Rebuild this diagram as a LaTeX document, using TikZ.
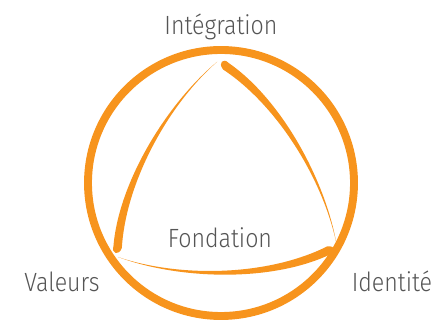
\documentclass[tikz,border=0pt]{standalone}
\usepackage{fontspec}
\setmainfont{Fira Sans Light}[FakeStretch=0.88]
\usepackage{tikz}
\definecolor{brushorange}{RGB}{247,148,29}
\definecolor{labelgray}{RGB}{85,85,85}

\begin{document}
\begin{tikzpicture}[x=0.02cm, y=-0.02cm, every node/.style={inner sep=0pt, anchor=base, text=labelgray, font=\fontsize{15}{17}\selectfont}]
		\useasboundingbox (0,0) rectangle (433,323);
		%Circle
		\draw [brushorange, line width=4.5pt] (221,183) circle (133);
		%Brush strokes
		\fill [brushorange] (118,257) .. controls (180,280) and (272,282) .. (330,254.5) .. controls (337,253) and (336,245) .. (327,246.5) .. controls (268,276) and (180,278) .. cycle;
		\fill [brushorange, rotate around={120:(224,188)}] (118,257) .. controls (180,280) and (272,282) .. (330,254.5) .. controls (337,253) and (336,245) .. (327,246.5) .. controls (268,276) and (180,278) .. cycle;
		\fill [brushorange, rotate around={240:(224,188)}] (118,257) .. controls (180,280) and (272,282) .. (330,254.5) .. controls (337,253) and (336,245) .. (327,246.5) .. controls (268,276) and (180,278) .. cycle;
		%Labels
		\node (integration) at (221,34.5) {Intégration};
		\node (fondation) at (220,247.5) {Fondation};
		\node (valeurs) at (62,292) {Valeurs};
		\node (identite) at (392,292) {Identité};
\end{tikzpicture}
\end{document}
